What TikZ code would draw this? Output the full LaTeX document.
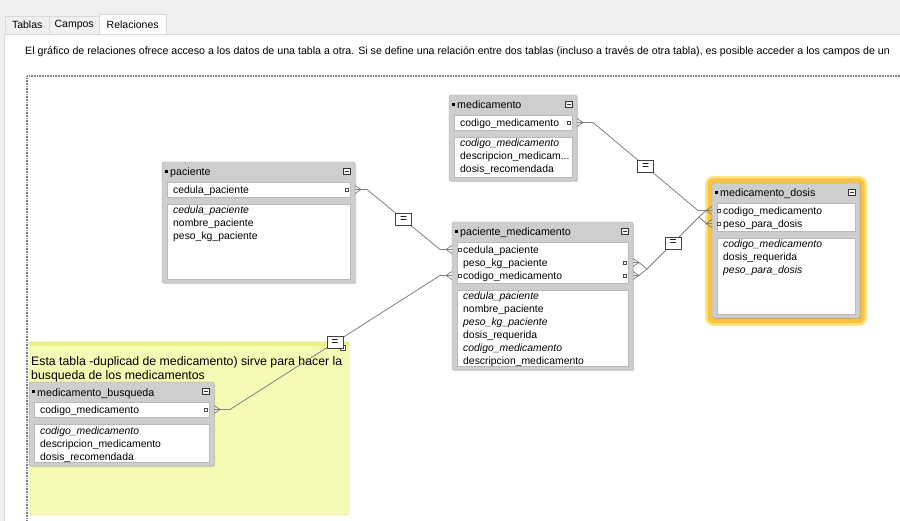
\documentclass[tikz,border=0pt]{standalone}
\usepackage{fontspec}
\setmainfont{Liberation Sans}
\usetikzlibrary{positioning,fit,calc,shadows}
\definecolor{winbg}{RGB}{240,240,240}
\definecolor{tabline}{RGB}{217,217,217}
\definecolor{frm}{RGB}{206,206,206}
\definecolor{frmline}{RGB}{165,165,165}
\definecolor{relgray}{RGB}{128,128,128}
\definecolor{notefill}{RGB}{245,250,180}
\definecolor{notetop}{RGB}{238,242,130}
\definecolor{noteline}{RGB}{215,220,120}
\definecolor{glowin}{RGB}{252,196,60}
\definecolor{glowout}{RGB}{255,226,140}

\newcommand{\fldfont}{\fontsize{10.4}{12}\selectfont}
\newcommand{\cutdots}{...}

% table: name, left, top, right, bottom, title, key rows, key fields, other fields
\newcommand{\dbtable}[9]{%
  \node[tblframe, fit={(#2,#3) (#4,#5)}] (#1) {};
  \node[tblicon] (#1-icon) at (#2+4.5,#3+9.5) {};
  \node[tbltitle] (#1-title) at (#2+8,#3+14) {#6};
  \node[tblmin] (#1-min) at (#4-8,#3+9.5) {};
  \node[keybox, fit={(#2+5,#3+20) (#4-5,#3+22+13*#7)}] (#1-keys) {};
  \node[listbox, fit={(#2+5,#3+29+13*#7) (#4-5,#5-4)}] (#1-list) {};
  \foreach \f [count=\i] in {#8}
    \node[fld] (#1-k\i) at (#2+11,#3+18.5+13*\i) {\f};
  \foreach \f [count=\i] in {#9}
    \node[fld] (#1-f\i) at (#2+11,#3+26+13*#7+13*\i) {\f};
}

\begin{document}
\begin{tikzpicture}[x=1pt, y=-1pt,
  tab/.style={draw=tabline, fill=winbg, inner sep=0pt, anchor=south west,
    font=\fontsize{10.5}{12}\selectfont},
  hdr/.style={anchor=base west, inner sep=0pt, font=\fontsize{10.65}{12}\selectfont},
  tblframe/.style={draw=frmline, fill=frm, rounded corners=2pt, inner sep=0pt,
    drop shadow={shadow xshift=1.2pt, shadow yshift=-1.2pt, opacity=.3}},
  tblicon/.style={fill=black, minimum size=3pt, inner sep=0pt},
  tbltitle/.style={anchor=base west, inner sep=0pt, font=\fontsize{10.7}{12}\selectfont},
  tblmin/.style={draw=black!80, fill=gray!10, minimum width=7pt, minimum height=6pt,
    inner sep=0pt, line width=.5pt,
    path picture={\draw[line width=.8pt] ([xshift=1.5pt]path picture bounding box.west)
      -- ([xshift=-1.5pt]path picture bounding box.east);}},
  keybox/.style={draw=gray!55, fill=white, inner sep=0pt, line width=.6pt},
  listbox/.style={draw=gray!55, fill=white, inner sep=0pt, line width=.6pt},
  fld/.style={anchor=base west, inner sep=0pt, font=\fldfont},
  port/.style={draw=black!70, fill=white, minimum size=3pt, inner sep=0pt, line width=.5pt},
  rel/.style={draw=relgray, line width=.8pt},
  eqbox/.style={draw=black!75, fill=white, minimum width=16pt, minimum height=12pt,
    inner sep=0pt, line width=.6pt, font=\fontsize{12}{12}\selectfont},
  crowR/.pic={\draw[rel] (0,-4) -- (6,0) -- (0,4) (0,0) -- (6,0);},
  crowL/.pic={\draw[rel] (0,-4) -- (-6,0) -- (0,4) (0,0) -- (-6,0);}]

\useasboundingbox (0,0) rectangle (900,521);
\clip (0,0) rectangle (900,521);

% window and tabs
\fill[winbg] (0,0) rectangle (900,521);
\draw[tabline, fill=white] (4,34) rectangle (905,526);
\node[tab, minimum width=44pt, minimum height=17.5pt] (tabTablas) at (5,34) {Tablas};
\node[tab, minimum width=50pt, minimum height=17.5pt] (tabCampos) at (49,34) {Campos};
\node[tab, fill=white, minimum width=67pt, minimum height=20pt] (tabRel) at (99,34.5) {Relaciones};
\node[hdr] (intro) at (25,55) {El gráfico de relaciones ofrece acceso a los datos de una tabla a otra. Si se define una relación entre dos tablas (incluso a través de otra tabla), es posible acceder a los campos de un};

% graph area
\draw[gray, line width=1.6pt, dash pattern=on .8pt off .8pt] (27,530) -- (27,76) -- (910,76);

% note
\node[draw=noteline, fill=notefill, rounded corners=2pt, inner sep=0pt,
  path picture={\fill[notetop] (path picture bounding box.north west)
    rectangle ([yshift=-4pt]path picture bounding box.north east);},
  fit={(29,342) (349,515)}] (note) {};
\node[anchor=base west, inner sep=0pt, font=\fontsize{12.3}{13}\selectfont] (note-l1) at (31,366) {Esta tabla -duplicad de medicamento) sirve para hacer la};
\node[anchor=base west, inner sep=0pt, font=\fontsize{12.3}{13}\selectfont] (note-l2) at (31,380) {busqueda de los medicamentos};
\node[draw=black!70, fill=white, minimum size=5pt, inner sep=0pt] (note-grip) at (343,348) {};

% selected table glow
\fill[glowout, rounded corners=8pt] (705,176) rectangle (867,326);
\fill[glowin, rounded corners=6pt] (707.5,178.5) rectangle (864.5,323.5);

% tables
\dbtable{med}{449}{95}{577}{181}{medicamento}{1}{codigo\_medicamento}
  {\textit{codigo\_medicamento}, descripcion\_medicam\cutdots, dosis\_recomendada}
\dbtable{pac}{162}{162}{355}{283}{paciente}{1}{cedula\_paciente}
  {\textit{cedula\_paciente}, nombre\_paciente, peso\_kg\_paciente}
\dbtable{pm}{452}{222}{633}{370}{paciente\_medicamento}{3}
  {cedula\_paciente, peso\_kg\_paciente, codigo\_medicamento}
  {\textit{cedula\_paciente}, nombre\_paciente, \textit{peso\_kg\_paciente},
   dosis\_requerida, \textit{codigo\_medicamento}, descripcion\_medicamento}
\dbtable{md}{712}{183}{860}{318}{medicamento\_dosis}{2}
  {codigo\_medicamento, peso\_para\_dosis}
  {\textit{codigo\_medicamento}, dosis\_requerida, \textit{peso\_para\_dosis}}
\dbtable{mb}{29}{382}{214}{466}{medicamento\_busqueda}{1}{codigo\_medicamento}
  {\textit{codigo\_medicamento}, descripcion\_medicamento, dosis\_recomendada}

% field ports
\node[port] (med-sq) at (569,122.5) {};
\node[port] (pac-sq) at (347,189.5) {};
\node[port] (pm-sq1) at (460,249.5) {};
\node[port] (pm-sq2) at (460,275.5) {};
\node[port] (pm-sq3) at (625,262.5) {};
\node[port] (pm-sq4) at (625,275.5) {};
\node[port] (md-sq1) at (719,210.5) {};
\node[port] (md-sq2) at (719,223.5) {};
\node[port] (mb-sq) at (206,409.5) {};

\coordinate (pac-out) at (355,189.5);
\coordinate (med-out) at (577,122.5);
\coordinate (mb-out) at (214,409.5);
\coordinate (pm-ced) at (452,249.5);
\coordinate (pm-cod) at (452,275.5);
\coordinate (pm-peso) at (633,262.5);
\coordinate (pm-cod2) at (633,275.5);
\coordinate (md-cod) at (712,210.5);
\coordinate (md-peso) at (712,223.5);
\coordinate (pmJ) at ($(pm-peso)!.5!(pm-cod2)+(14,0)$);
\coordinate (mdJ) at ($(md-cod)!.5!(md-peso)+(-13,0)$);

% relationships
\draw[rel] ([xshift=6pt]pac-out) -- ++(6,0) -- node[eqbox] (eqA) {=} ([xshift=-12pt]pm-ced) -- ([xshift=-6pt]pm-ced);
\draw[rel] ([xshift=6pt]med-out) -- ++(10,0) -- node[eqbox] (eqB) {=} ([xshift=-14pt]md-cod) -- ([xshift=-6pt]md-cod);
\draw[rel] ([xshift=6pt]pm-peso) -- (pmJ) -- node[eqbox] (eqC) {=} (mdJ) -- ([xshift=-6pt]md-cod);
\draw[rel] ([xshift=6pt]pm-cod2) -- (pmJ);
\draw[rel] (mdJ) -- ([xshift=-6pt]md-peso);
\draw[rel] ([xshift=6pt]mb-out) -- ++(10,0) -- node[eqbox] (eqD) {=} ([xshift=-12pt]pm-cod) -- ([xshift=-6pt]pm-cod);
\foreach \p in {pac-out, med-out, mb-out, pm-peso, pm-cod2}
  \pic at (\p) {crowR};
\foreach \p in {pm-ced, pm-cod, md-cod, md-peso}
  \pic at (\p) {crowL};
\end{tikzpicture}
\end{document}
